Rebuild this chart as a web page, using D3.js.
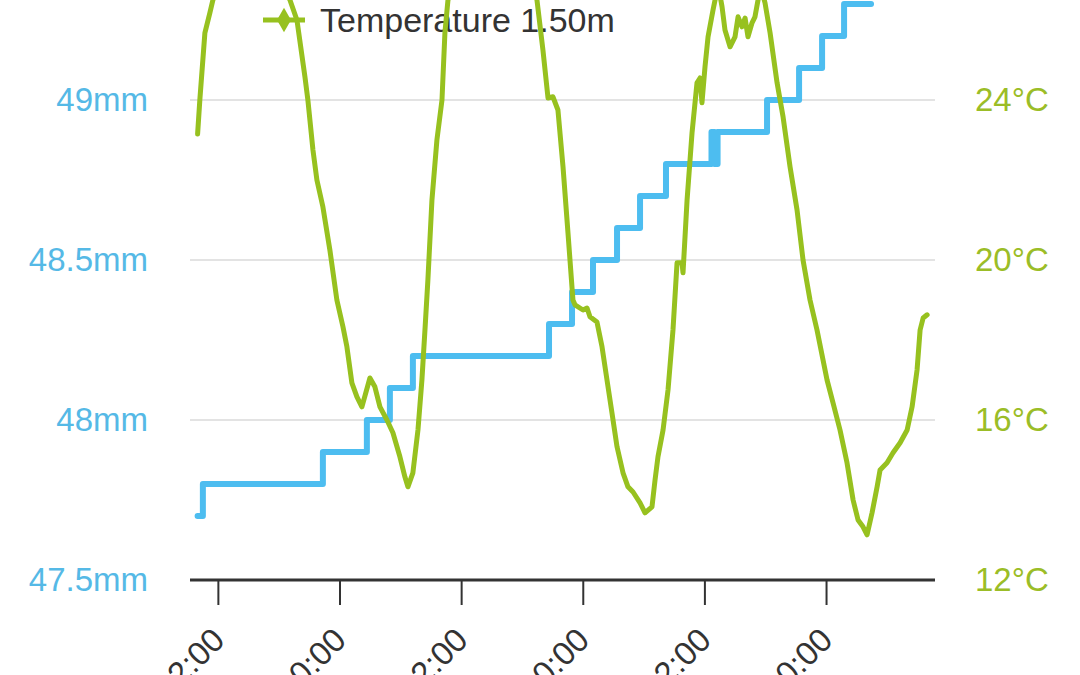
<!DOCTYPE html>
<html>
<head>
<meta charset="utf-8">
<script src="https://cdn.jsdelivr.net/npm/d3@7"></script>
<style>
  body { margin: 0; background: #fff; }
  svg { display: block; overflow: hidden; }
  text { font-family: "Helvetica Neue", Helvetica, Arial, "Liberation Sans", sans-serif; }
</style>
</head>
<body>
<div id="chart-area"></div>
<script>
// hours counted from 00:00 of the first day
var day0 = new Date(2020, 5, 1, 0, 0);

var tempHours = [10.0, 10.22, 10.72, 11.21, 11.51, 13.2, 15.2, 17.3, 19.11, 19.8, 20.59, 20.88, 21.38, 21.77, 22.36, 23.05,
	23.74, 24.34, 24.73, 25.22, 25.72, 26.21, 27.0, 27.49, 27.99, 28.68, 29.27, 29.96, 30.45, 30.75, 31.24, 31.74,
	32.13, 32.43, 32.72, 33.12, 33.61, 34.11, 34.4, 34.7, 36.9, 39.8, 42.3, 43.48, 44.07, 44.57, 45.06, 45.55,
	46.05, 46.54, 47.03, 47.23, 48.02, 48.42, 48.71, 49.4, 49.9, 50.39, 50.88, 51.38, 51.97, 52.46, 52.96, 53.65,
	54.14, 54.83, 55.13, 55.42, 55.92, 56.41, 56.9, 57.3, 57.79, 57.89, 58.29, 58.78, 59.27, 59.57, 59.76, 60.06,
	60.36, 60.85, 61.05, 61.34, 61.74, 62.03, 62.53, 63.02, 63.32, 63.71, 64.01, 64.3, 64.7, 64.99, 65.29, 65.59,
	65.98, 66.48, 67.17, 67.76, 68.45, 69.14, 69.73, 70.42, 71.11, 72.1, 72.69, 73.38, 74.07, 74.67, 75.16, 75.65,
	76.05, 76.54, 77.04, 77.33, 78.02, 78.61, 79.31, 80.0, 80.49, 80.98, 81.28, 81.58, 81.97];

var tempValues = [23.15, 24.0, 25.68, 26.18, 26.5, 27.6, 28.0, 27.5, 26.5, 26.0, 24.58, 24.0, 22.75, 22.0, 21.33, 20.25,
	19.0, 18.33, 17.83, 16.93, 16.58, 16.33, 17.05, 16.83, 16.33, 16.0, 15.68, 15.08, 14.58, 14.33, 14.68, 15.75,
	17.0, 18.25, 19.5, 21.5, 23.0, 24.0, 25.68, 26.5, 27.75, 28.05, 27.5, 26.5, 25.25, 24.05, 24.08, 23.75,
	22.33, 20.68, 19.0, 18.88, 18.75, 18.8, 18.58, 18.45, 17.83, 17.0, 16.18, 15.33, 14.68, 14.33, 14.2, 13.93,
	13.68, 13.83, 14.5, 15.08, 15.75, 16.75, 18.25, 19.93, 19.93, 19.68, 21.5, 23.18, 24.43, 24.55, 23.93, 24.83,
	25.58, 26.25, 26.5, 26.9, 26.33, 25.75, 25.33, 25.58, 26.08, 25.83, 26.05, 25.58, 25.93, 26.08, 26.5, 26.8,
	26.43, 25.68, 24.43, 23.58, 22.33, 21.25, 20.0, 19.0, 18.25, 17.0, 16.43, 15.75, 14.93, 14.0, 13.5, 13.33,
	13.13, 13.68, 14.33, 14.75, 14.93, 15.18, 15.43, 15.75, 16.33, 17.25, 18.25, 18.55, 18.63];

var gaugeHours = [10.0, 10.52, 22.36, 26.7, 28.97, 31.24, 44.67, 46.94, 49.01, 51.38, 53.65, 56.21,
	60.7, 61.0, 61.3, 66.18, 69.34, 71.61, 73.78, 76.44];
var gaugeValues = [47.7, 47.8, 47.9, 48.0, 48.1, 48.2, 48.3, 48.4, 48.5, 48.6, 48.7, 48.8,
	48.9, 48.8, 48.9, 49.0, 49.1, 49.2, 49.3, 49.3];

var mmTicks = [47.5, 48, 48.5, 49];
var degTicks = [12, 16, 20, 24];
var timeTickHours = [12, 24, 36, 48, 60, 72];
var legendLabel = "Temperature 1.50m";

var blue = "#4dbdf0";
var green = "#97c11f";

function hourDate(h) {
	return new Date(day0.getTime() + h * 3600 * 1000);
}

var svg = d3.select("#chart-area").append("svg")
	.attr("width", 1080)
	.attr("height", 675);

var plotLeft = 190, plotRight = 935, plotBottom = 580, plotTop = -60;

var x = d3.scaleTime()
	.domain([hourDate(9.25), hourDate(82.75)])
	.range([plotLeft, plotRight]);

var yMm = d3.scaleLinear()
	.domain([47.5, 49.5])
	.range([plotBottom, plotTop]);

var yDeg = d3.scaleLinear()
	.domain([12, 28])
	.range([plotBottom, plotTop]);

// grid
svg.append("g")
	.selectAll("line")
	.data(mmTicks.slice(1))
	.enter().append("line")
	.attr("x1", plotLeft)
	.attr("x2", plotRight)
	.attr("y1", d => yMm(d))
	.attr("y2", d => yMm(d))
	.attr("stroke", "#e3e3e3")
	.attr("stroke-width", 2);

// left axis labels
var leftAxis = svg.append("g")
	.attr("transform", "translate(" + (plotLeft - 42) + ",0)")
	.call(d3.axisLeft(yMm).tickValues(mmTicks).tickSize(0).tickPadding(0)
		.tickFormat(d => d + "mm"));
leftAxis.select(".domain").remove();
leftAxis.selectAll("text")
	.attr("fill", "#55b9e6")
	.style("font-size", "33px");

// right axis labels
var rightAxis = svg.append("g")
	.attr("transform", "translate(" + (plotRight + 40) + ",0)")
	.call(d3.axisRight(yDeg).tickValues(degTicks).tickSize(0).tickPadding(0)
		.tickFormat(d => d + "°C"));
rightAxis.select(".domain").remove();
rightAxis.selectAll("text")
	.attr("fill", "#9bbd27")
	.style("font-size", "33px");

// bottom axis
var xAxis = svg.append("g")
	.attr("transform", "translate(0," + plotBottom + ")")
	.call(d3.axisBottom(x)
		.tickValues(timeTickHours.map(hourDate))
		.tickSize(25)
		.tickSizeOuter(0)
		.tickFormat(d3.timeFormat("%H:%M")));
xAxis.select(".domain")
	.attr("d", "M" + plotLeft + ",0H" + plotRight)
	.attr("stroke", "#333")
	.attr("stroke-width", 3);
xAxis.selectAll(".tick line")
	.attr("stroke", "#333")
	.attr("stroke-width", 2);
xAxis.selectAll(".tick text")
	.attr("y", 0)
	.attr("dy", 0)
	.attr("transform", "translate(8,62) rotate(-45)")
	.attr("text-anchor", "end")
	.attr("fill", "#333")
	.style("font-size", "33px");

// legend
var legend = svg.append("g").attr("transform", "translate(263,20)");
legend.append("line")
	.attr("x1", 0).attr("x2", 42)
	.attr("y1", 0).attr("y2", 0)
	.attr("stroke", green)
	.attr("stroke-width", 5);
legend.append("path")
	.attr("d", d3.symbol(d3.symbolDiamond, 170))
	.attr("transform", "translate(21,0)")
	.attr("fill", green);
legend.append("text")
	.attr("x", 57)
	.attr("y", 12)
	.attr("fill", "#333")
	.style("font-size", "34px")
	.text(legendLabel);

// rain gauge (mm) step line
var gauge = gaugeHours.map((h, i) => ({ t: hourDate(h), v: gaugeValues[i] }));
svg.append("path")
	.datum(gauge)
	.attr("fill", "none")
	.attr("stroke", blue)
	.attr("stroke-width", 6)
	.attr("stroke-linejoin", "round")
	.attr("stroke-linecap", "round")
	.attr("d", d3.line()
		.x(d => x(d.t))
		.y(d => yMm(d.v))
		.curve(d3.curveStepAfter));

// temperature line
var temp = tempHours.map((h, i) => ({ t: hourDate(h), v: tempValues[i] }));
svg.append("path")
	.datum(temp)
	.attr("fill", "none")
	.attr("stroke", green)
	.attr("stroke-width", 5)
	.attr("stroke-linejoin", "round")
	.attr("stroke-linecap", "round")
	.attr("d", d3.line()
		.x(d => x(d.t))
		.y(d => yDeg(d.v)));
</script>
</body>
</html>
